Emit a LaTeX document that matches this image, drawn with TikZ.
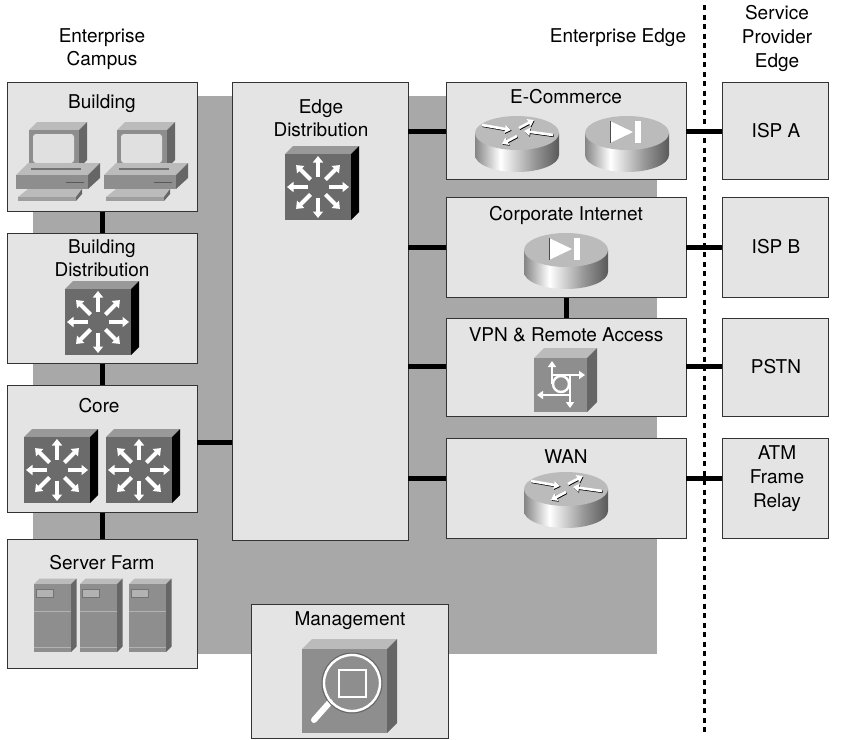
\documentclass[tikz,border=0pt]{standalone}
\usepackage{fontspec}
\setmainfont{TeX Gyre Heros}
\usetikzlibrary{arrows.meta}
\definecolor{backgray}{HTML}{A8A8A8}
\definecolor{boxgray}{HTML}{E4E4E4}
\definecolor{facegray}{HTML}{8E8E8E}
\definecolor{topgray}{HTML}{BBBBBB}
\definecolor{sidegray}{HTML}{666666}
\pgfdeclarehorizontalshading{cylside}{100bp}{color(0bp)=(black!48); color(25bp)=(black!48); color(40bp)=(white); color(60bp)=(black!40); color(75bp)=(black!65); color(100bp)=(black!65)}
\tikzset{
  boxnode/.style={draw=black!80,line width=1pt,fill=boxgray,inner sep=0pt},
  link/.style={line width=5pt,black},
  iconarrow/.style={line width=4pt,white,-{Triangle[length=6.5pt,width=10pt]}},
  smallarrow/.style={line width=2.6pt,white,-{Triangle[length=6pt,width=8pt]}},
  arrowshadow/.style={line width=2.6pt,black,-{Triangle[length=6pt,width=8pt]},shift={(.6,.8)}},
}
% cube: top-left corner of the front, width, height, depth, colours
\newcommand{\cubeicon}[7]{
  \fill[#6] (#1,#2) -- ++(#5,-#5) -- ++(#3,0) -- ++(-#5,#5) -- cycle;
  \fill[#7] (#1+#3,#2) -- ++(#5,-#5) -- ++(0,#4) -- ++(-#5,#5) -- cycle;
}
\newcommand{\switchicon}[2]{
  \cubeicon{#1}{#2}{66}{66}{8}{black!40}{black}
  \fill[black!58] (#1,#2) rectangle ++(66,66);
  \begin{scope}[shift={(#1+33,#2+33)}]
    \foreach \a in {0,45,...,315} {
      \draw[iconarrow] (\a:10.5) -- (\a:31);
    }
  \end{scope}
}
\newcommand{\routericon}[2]{
  \begin{scope}[shift={(#1,#2)}]
    \shade[shading=cylside] (-42,0) -- (-42,22) arc[start angle=180,end angle=0,x radius=42,y radius=17] -- (42,0) -- cycle;
    \fill[topgray] (0,0) ellipse[x radius=42,y radius=17];
    \foreach \ax/\ay/\bx/\by in {-35/-8/-6/-3, 2/-5/17/-13, 36/2/7/-2, 0/3/-15/11} {
      \draw[arrowshadow] (\ax,\ay) -- (\bx,\by);
      \draw[smallarrow] (\ax,\ay) -- (\bx,\by);
    }
  \end{scope}
}
\newcommand{\firewallicon}[2]{
  \begin{scope}[shift={(#1,#2)}]
    \shade[shading=cylside] (-42,0) -- (-42,22) arc[start angle=180,end angle=0,x radius=42,y radius=17] -- (42,0) -- cycle;
    \fill[topgray] (0,0) ellipse[x radius=42,y radius=17];
    \fill[white] (-17,-12) -- (-17,10) -- (6,-1) -- cycle;
    \draw[black!70,line width=.6pt] (-17,-12) -- (-17,10);
    \fill[white] (8,-12) rectangle (14,10);
  \end{scope}
}
\newcommand{\pcicon}[1]{
  \begin{scope}[shift={(#1,0)}]
    \fill[topgray] (29,130) -- (37,122) -- (87,122) -- (79,130) -- cycle;
    \fill[sidegray] (79,130) -- (87,122) -- (87,160) -- (79,168) -- cycle;
    \fill[facegray] (29,130) rectangle (79,168);
    \fill[black!12,rounded corners=3pt] (33,134) rectangle (74,163);
    \fill[topgray] (16,175) -- (28,163) -- (100,163) -- (88,175) -- cycle;
    \fill[black!55] (31,168) rectangle (81,170);
    \fill[sidegray] (88,175) -- (100,163) -- (100,178) -- (88,189) -- cycle;
    \fill[facegray] (16,175) rectangle (88,189);
    \draw[black!65,line width=1pt] (66,182) -- (84,182);
    \fill[topgray] (18,197) -- (28,189) -- (82,189) -- (76,197) -- cycle;
    \fill[sidegray] (76,197) -- (82,189) -- (82,194) -- (76,201) -- cycle;
    \fill[black!38] (18,197) rectangle (76,201);
  \end{scope}
}
\newcommand{\servericon}[1]{
  \begin{scope}[shift={(#1,0)}]
    \cubeicon{34}{584}{37}{68}{5.5}{topgray}{sidegray}
    \fill[facegray] (34,584) rectangle (71,652);
    \fill[black!30,draw=black!55,line width=.5pt] (36,589) rectangle (53,597);
    \draw[black!30,line width=.7pt] (34,611) -- (71,611);
    \draw[black!30,line width=.7pt] (34,647) -- (71,647);
  \end{scope}
}
\begin{document}
\begin{tikzpicture}[x=1pt,y=-1pt,font=\fontsize{19}{23}\selectfont]
  \useasboundingbox (0,0) rectangle (843,739);

  \fill[backgray] (33,96) rectangle (657,654);

  \begin{scope}[every node/.style={boxnode}]
    \node[minimum width=190,minimum height=129] (building) at (102,146.5) {};
    \node[minimum width=190,minimum height=130] (builddist) at (102,298) {};
    \node[minimum width=190,minimum height=127] (core) at (102,448.5) {};
    \node[minimum width=190,minimum height=129] (farm) at (102,603.5) {};
    \node[minimum width=176,minimum height=458] (edgedist) at (320,311) {};
    \node[minimum width=240,minimum height=97] (ecomm) at (566,130.5) {};
    \node[minimum width=240,minimum height=100] (corpnet) at (566,247) {};
    \node[minimum width=240,minimum height=98] (vpn) at (566,367) {};
    \node[minimum width=240,minimum height=100] (wan) at (566,488) {};
    \node[minimum width=106,minimum height=97] (ispa) at (775,130.5) {\hspace{2pt}ISP A};
    \node[minimum width=106,minimum height=100] (ispb) at (775,247) {\hspace{2pt}ISP B};
    \node[minimum width=106,minimum height=98] (pstn) at (775,367) {\hspace{2pt}PSTN};
    \node[minimum width=106,minimum height=100] (atm) at (775,488) {};
    \node[minimum width=197,minimum height=134] (mgmt) at (349.5,671) {};
  \end{scope}

  % links
  \draw[link] (building) -- (builddist);
  \draw[link] (builddist) -- (core);
  \draw[link] (core) -- (farm);
  \draw[link] (corpnet) -- (vpn);
  \coordinate (e1) at (408,131);
  \coordinate (e2) at (408,247);
  \coordinate (e3) at (408,366);
  \coordinate (e4) at (408,478);
  \coordinate (c1) at (232,442);
  \coordinate (c2) at (197,442);
  \coordinate (r1) at (446,131);
  \coordinate (r2) at (446,247);
  \coordinate (r3) at (446,366);
  \coordinate (r4) at (446,478);
  \coordinate (s1) at (686,131);
  \coordinate (s2) at (686,247);
  \coordinate (s3) at (686,366);
  \coordinate (s4) at (686,478);
  \coordinate (t1) at (722,131);
  \coordinate (t2) at (722,247);
  \coordinate (t3) at (722,366);
  \coordinate (t4) at (722,478);
  \draw[link] (c2) -- (c1);
  \draw[link] (e1) -- (r1);
  \draw[link] (e2) -- (r2);
  \draw[link] (e3) -- (r3);
  \draw[link] (e4) -- (r4);
  \draw[link] (s1) -- (t1);
  \draw[link] (s2) -- (t2);
  \draw[link] (s3) -- (t3);
  \draw[link] (s4) -- (t4);

  \coordinate (divtop) at (704,5);
  \coordinate (divbot) at (704,736);
  \draw[line width=3pt,black,dash pattern=on 5pt off 4.5pt] (divtop) -- (divbot);

  % icons
  \pcicon{0}
  \pcicon{88}
  \switchicon{65}{289}
  \switchicon{24}{437}
  \switchicon{106}{437}
  \switchicon{285}{154}
  \servericon{0}
  \servericon{46}
  \servericon{95}
  \routericon{517}{133}
  \firewallicon{627}{133}
  \firewallicon{566}{250}
  \routericon{566}{489}

  \cubeicon{534}{358}{53}{54}{10}{topgray}{sidegray}
  \fill[facegray] (534,358) rectangle (587,412);
  \draw[smallarrow] (552,384) -- (552,361);
  \draw[smallarrow] (552,375) -- (585,375);
  \draw[smallarrow] (570,395) -- (537,395);
  \draw[smallarrow] (570,375) -- (570,408);
  \draw[white,line width=2.4pt,fill=facegray] (561,384) circle[radius=8];

  \cubeicon{302}{649}{85}{84}{10}{topgray}{sidegray}
  \fill[facegray] (302,649) rectangle (387,733);
  \draw[white,line width=6pt,line cap=round] (330,702) -- (314,720);
  \draw[sidegray,line width=1pt] (352,683) circle[radius=30];
  \draw[white,line width=2.4pt] (352,683) circle[radius=28];
  \draw[white,line width=2.6pt] (339,670) rectangle (366,697);

  % labels
  \begin{scope}[every node/.style={align=center}]
    \node (lcampus) at (102,49.5) {Enterprise\\Campus};
    \node (ledge) at (618,38) {Enterprise Edge};
    \node[font=\fontsize{19}{24}\selectfont] (lprovider) at (777,38) {Service\\Provider\\Edge};
    \node (lbuilding) at (102,104) {Building};
    \node[font=\fontsize{19}{23}\selectfont] (lbuilddist) at (102,258.5) {Building\\Distribution};
    \node (lcore) at (99,406) {Core};
    \node (lfarm) at (102,563) {Server Farm};
    \node[font=\fontsize{19}{23}\selectfont] (ledgedist) at (321,118) {Edge\\Distribution};
    \node (lecomm) at (566,97) {E-Commerce};
    \node (lcorpnet) at (566,215) {Corporate Internet};
    \node (lvpn) at (566,335) {VPN \& Remote Access};
    \node (lwan) at (566,457) {WAN};
    \node (lmgmt) at (350,621) {Management};
    \node[font=\fontsize{19}{24}\selectfont] (latm) at (777,479) {ATM\\Frame\\Relay};
  \end{scope}
\end{tikzpicture}
\end{document}
